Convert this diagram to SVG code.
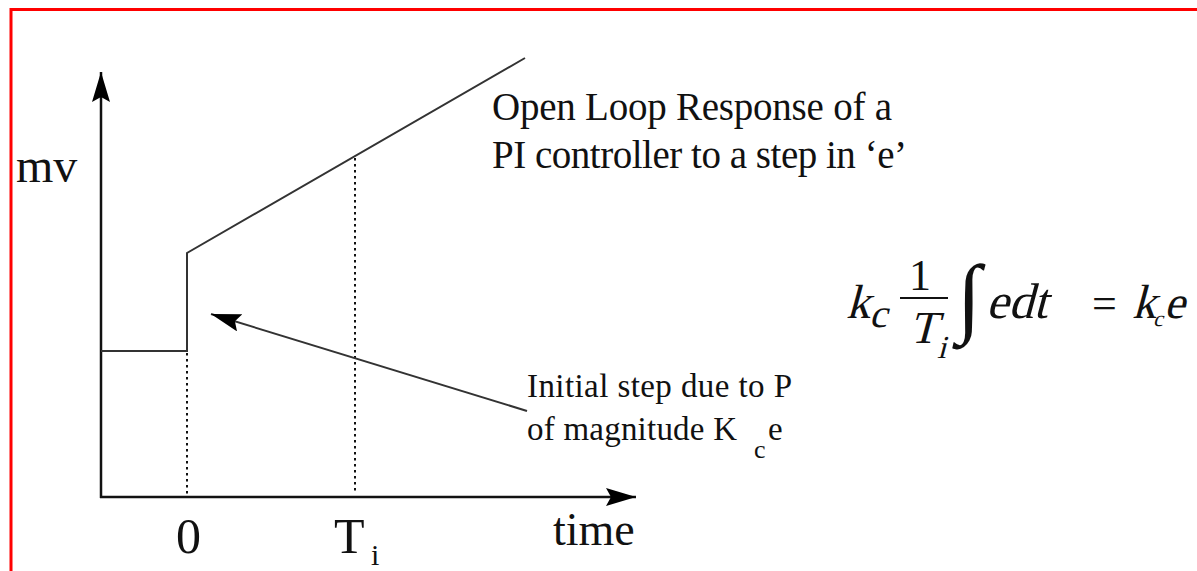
<svg xmlns="http://www.w3.org/2000/svg" width="1197" height="571" viewBox="0 0 1197 571">
<style>
.ax{stroke:#111;stroke-width:2.5;fill:none}
.ln{stroke:#333;stroke-width:2;fill:none}
.dot{stroke:#111;stroke-width:2;fill:none;stroke-dasharray:2.5 3.5}
.t{font-family:"Liberation Serif","Times New Roman",serif;fill:#111}
</style>
<defs>
<marker id="ah" markerUnits="userSpaceOnUse" markerWidth="32" markerHeight="20" refX="30" refY="9" orient="auto" viewBox="0 0 32 20">
<path d="M0,0 L30,9 L0,18 L5,9 z" fill="#000"/>
</marker>
</defs>
<rect x="11" y="9.5" width="1200" height="600" fill="#fff" stroke="#f00" stroke-width="3"/>
<g id="axes">
<line class="ax" x1="101" y1="498" x2="101" y2="72" marker-end="url(#ah)"/>
<line class="ax" x1="100" y1="497" x2="636" y2="497" marker-end="url(#ah)"/>
</g>
<g id="response">
<polyline class="ln" points="101,351 187,351 187,253 525,58"/>
<line class="dot" x1="187" y1="353" x2="187" y2="494"/>
<line class="dot" x1="355" y1="158" x2="355" y2="494"/>
</g>
<g id="connectors">
<line class="ln" x1="527" y1="411" x2="211" y2="314" marker-end="url(#ah)"/>
</g>
<g id="labels">
<text class="t" x="16" y="182" font-size="48">mv</text>
<text class="t" x="176" y="553" font-size="50">0</text>
<text class="t" x="334" y="553" font-size="50">T</text>
<text class="t" x="371" y="565" font-size="30">i</text>
<text class="t" x="553" y="545" font-size="46">time</text>
</g>
<g id="title">
<text class="t" x="492" y="120" font-size="39" textLength="400">Open Loop Response of a</text>
<text class="t" x="492" y="168" font-size="39" textLength="415">PI controller to a step in ‘e’</text>
</g>
<g id="note">
<text class="t" x="527" y="397" font-size="33" textLength="265">Initial step due to P</text>
<text class="t" x="527" y="440" font-size="33" textLength="210">of magnitude K</text>
<text class="t" x="754" y="458" font-size="26">c</text>
<text class="t" x="768" y="440" font-size="33">e</text>
</g>
<g id="formula">
<text class="t" transform="translate(846,318) skewX(-15)" font-size="48">k</text>
<text class="t" transform="translate(869,327) skewX(-15)" font-size="40">c</text>
<text class="t" x="920" y="290" font-size="44" text-anchor="middle">1</text>
<line x1="900" y1="298" x2="948" y2="298" stroke="#111" stroke-width="2.2"/>
<text class="t" transform="translate(909,343) skewX(-15)" font-size="46">T</text>
<text class="t" transform="translate(937,358) skewX(-15)" font-size="32">i</text>
<text class="t" x="957" y="326" font-size="88">∫</text>
<text class="t" transform="translate(986,318) skewX(-15)" font-size="50">edt</text>
<text class="t" x="1092" y="318" font-size="44">=</text>
<text class="t" transform="translate(1132,318) skewX(-15)" font-size="48">k</text>
<text class="t" transform="translate(1153,326) skewX(-15)" font-size="22">c</text>
<text class="t" transform="translate(1164,318) skewX(-15)" font-size="46">e</text>
</g>
</svg>
